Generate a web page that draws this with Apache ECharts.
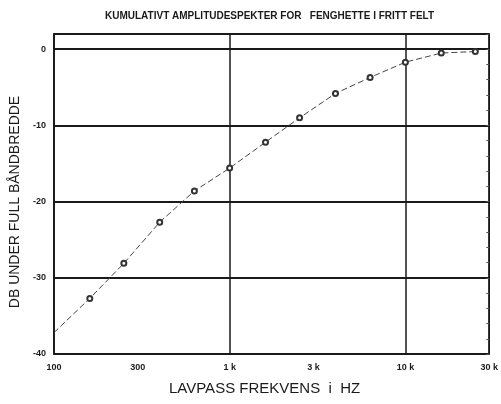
<!DOCTYPE html>
<html>
<head>
<meta charset="utf-8">
<script src="https://cdn.jsdelivr.net/npm/echarts@6/dist/echarts.min.js"></script>
<style>
  html, body { margin: 0; padding: 0; background: #fff; }
  #chart { width: 501px; height: 404px; }
</style>
</head>
<body>
<div id="chart"></div>
<script>
// Low-pass cut-off frequency (Hz) and level below full bandwidth (dB)
const frequencies = [100, 160, 250, 400, 630, 1000, 1600, 2500, 4000, 6300, 10000, 16000, 25000];
const levels = [-37.2, -32.7, -28.1, -22.7, -18.6, -15.6, -12.2, -9.0, -5.8, -3.7, -1.7, -0.5, -0.3];
const xTickValues = [100, 300, 1000, 3000, 10000, 30000];
const xTickLabels = ['100', '300', '1 k', '3 k', '10 k', '30 k'];
const yTickValues = [-40, -30, -20, -10, 0];

const FONT = '"Liberation Sans Narrow", "Liberation Sans", Arial, sans-serif';
const INK = '#1a1a1a';

const chart = echarts.init(document.getElementById('chart'));

// the curve starts at the left edge without a marker
const seriesData = frequencies.map((f, i) => {
  const item = { value: [f, levels[i]] };
  if (i === 0) item.symbol = 'none';
  return item;
});

chart.setOption({
  animation: false,
  backgroundColor: '#fff',
  title: {
    text: 'KUMULATIVT AMPLITUDESPEKTER FOR   FENGHETTE I FRITT FELT',
    left: 100,
    top: 6,
    textStyle: { fontFamily: FONT, fontSize: 10, fontWeight: 'bold', color: INK }
  },
  grid: {
    left: 53, right: 10, top: 34, bottom: 50,
    show: true, borderColor: INK, borderWidth: 1.5, backgroundColor: 'transparent'
  },
  xAxis: {
    type: 'log',
    logBase: 10,
    min: 100,
    max: 30000,
    name: 'LAVPASS FREKVENS  i  HZ',
    nameLocation: 'middle',
    nameGap: 27,
    nameTextStyle: { fontFamily: FONT, fontSize: 15, color: INK, padding: [0, 14, 0, 0] },
    axisLine: { show: true, lineStyle: { color: INK, width: 1.5 } },
    axisTick: { show: false },
    axisLabel: {
      customValues: xTickValues,
      formatter: v => {
        const i = xTickValues.findIndex(t => Math.abs(t - v) / t < 1e-6);
        return i >= 0 ? xTickLabels[i] : '';
      },
      fontFamily: FONT, fontSize: 9, fontWeight: 'bold', color: INK, margin: 9
    },
    splitLine: { show: true, lineStyle: { color: INK, width: 1.5 } }
  },
  yAxis: [{
    type: 'value',
    min: -40,
    max: 2,
    interval: 10,
    name: 'DB UNDER FULL BÅNDBREDDE',
    nameLocation: 'middle',
    nameGap: 25,
    nameTextStyle: { fontFamily: FONT, fontSize: 14, color: INK, padding: [0, 16, 0, 0] },
    axisLine: { show: true, lineStyle: { color: INK, width: 1.5 } },
    axisTick: { show: false },
    axisLabel: {
      customValues: yTickValues,
      fontFamily: FONT, fontSize: 9, fontWeight: 'bold', color: INK, margin: 8
    },
    splitLine: { show: true, lineStyle: { color: INK, width: 2 } }
  }, {
    // small inner ticks along the right frame every 2 dB
    type: 'value',
    position: 'right',
    min: -40,
    max: 2,
    interval: 2,
    axisLine: { show: false },
    axisTick: { show: true, inside: true, length: 3, lineStyle: { color: '#555', width: 1 } },
    axisLabel: { show: false },
    splitLine: { show: false }
  }],
  series: [{
    type: 'line',
    data: seriesData,
    symbol: 'emptyCircle',
    symbolSize: 5,
    showSymbol: true,
    showAllSymbol: true,
    lineStyle: { color: '#444', width: 1, type: [6, 3] },
    itemStyle: { color: '#333', borderWidth: 0.8 }
  }]
});
</script>
</body>
</html>
